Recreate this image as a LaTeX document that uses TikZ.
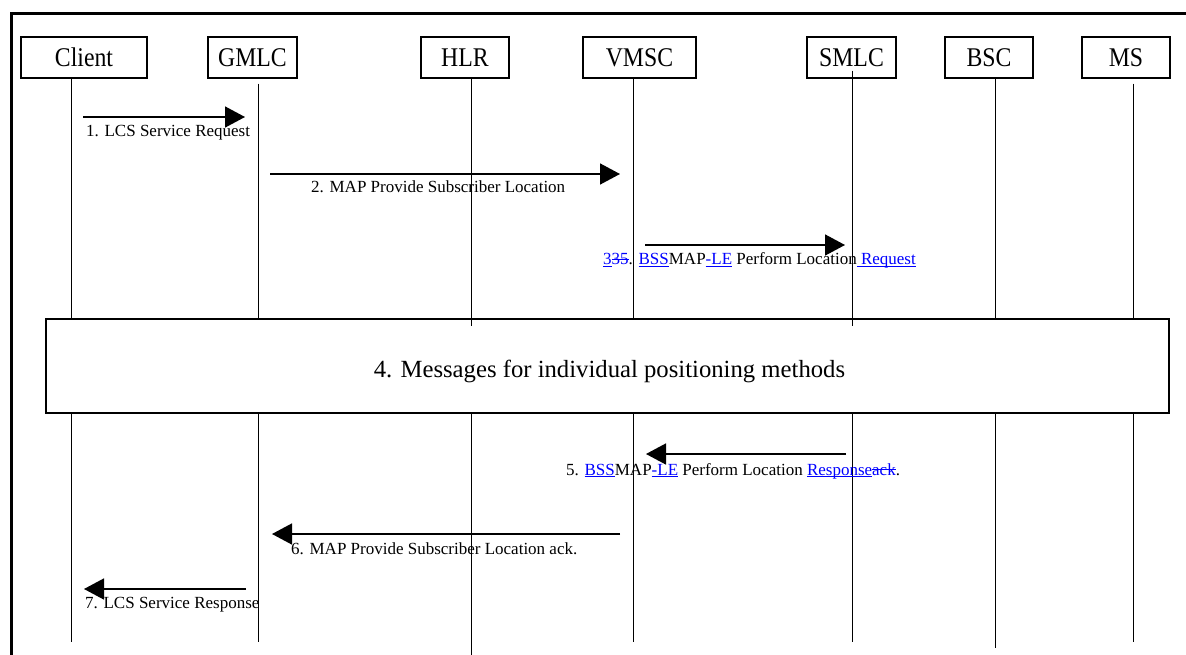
\documentclass[tikz,border=0pt]{standalone}
\usepackage{fontspec}
\setmainfont{Liberation Serif}
\newfontfamily\entfont[FakeStretch=0.88]{Liberation Serif}
\usetikzlibrary{arrows.meta}
\newcommand\insU[1]{\textcolor{blue}{\sbox0{#1}\rlap{\rule[-0.13em]{\wd0}{0.06em}}\usebox0}}
\newcommand\delS[1]{\textcolor{blue}{\sbox0{#1}\rlap{\rule[0.28em]{\wd0}{0.06em}}\usebox0}}
\tikzset{
  ent/.style={draw, line width=1.2pt, minimum height=41pt, inner sep=0pt, font=\entfont\fontsize{27}{30}\selectfont},
  life/.style={line width=1pt},
  msg/.style={line width=1.5pt, -{Triangle[length=20pt,width=21pt]}},
  lbl/.style={anchor=base west, inner sep=0pt, font=\fontsize{17}{20}\selectfont},
  frameline/.style={line width=3pt, line join=miter},
  procbox/.style={draw, fill=white, line width=1.2pt, minimum width=1123pt, minimum height=94pt, inner sep=0pt},
  proctext/.style={anchor=base, inner sep=0pt, font=\fontsize{24.7}{28}\selectfont}
}
\begin{document}
\begin{tikzpicture}[x=1pt,y=-1pt]
\useasboundingbox (0,0) rectangle (1186,655);
\begin{scope}
\clip (0,0) rectangle (1186,655);
\draw[frameline] (11,700) -- (11,14) -- (1250,14);
\end{scope}
% entities
\node[ent, minimum width=126pt] (Client) at (84,57.5) {Client};
\node[ent, minimum width=89pt] (GMLC) at (252.5,57.5) {GMLC};
\node[ent, minimum width=88pt] (HLR) at (465,57.5) {HLR};
\node[ent, minimum width=113pt] (VMSC) at (639.5,57.5) {VMSC};
\node[ent, minimum width=89pt] (SMLC) at (851.5,57.5) {SMLC};
\node[ent, minimum width=88pt] (BSC) at (989,57.5) {BSC};
\node[ent, minimum width=88pt] (MS) at (1126,57.5) {MS};
% procedure box
\node[procbox] (pm) at (607.5,366) {};
\node[proctext] (pmt) at (609.5,377.5) {4. Messages for individual positioning methods};
% lifelines
\foreach \n/\x/\s/\u/\e in {Client/71/0/0/642, GMLC/258/-5/0/642, HLR/471/0/-8/700, VMSC/633/0/0/642, SMLC/852/8/-8/642, BSC/995/0/0/648, MS/1133/-5/0/642}{
  \coordinate (L\n) at (\x,0);
  \coordinate (E\n) at (\x,\e);
  \draw[life] ([yshift=\s pt]\n.south -| L\n) -- ([yshift=\u pt]pm.north -| L\n);
  \draw[life] (pm.south -| L\n) -- (E\n);
}
% messages
\coordinate (m1a) at (83,117);  \coordinate (m1b) at (245,117);
\coordinate (m2a) at (270,174); \coordinate (m2b) at (620,174);
\coordinate (m3a) at (645,245); \coordinate (m3b) at (845,245);
\coordinate (m5a) at (846,454); \coordinate (m5b) at (646,454);
\coordinate (m6a) at (620,534); \coordinate (m6b) at (272,534);
\coordinate (m7a) at (246,589); \coordinate (m7b) at (84,589);
\draw[msg] (m1a) -- (m1b);
\draw[msg] (m2a) -- (m2b);
\draw[msg] (m3a) -- (m3b);
\draw[msg] (m5a) -- (m5b);
\draw[msg] (m6a) -- (m6b);
\draw[msg] (m7a) -- (m7b);
\node[lbl] (t1) at (86,137) {1. LCS Service Request};
\node[lbl] (t2) at (311,193) {2. MAP Provide Subscriber Location};
\node[lbl] (t3) at (603,265) {\insU{3}\delS{35}. \insU{BSS}MAP\insU{-LE} Perform Location\insU{ Request}};
\node[lbl] (t5) at (566,475) {5. \insU{BSS}MAP\insU{-LE} Perform Location \insU{Response}\delS{ack}.};
\node[lbl] (t6) at (291,554) {6. MAP Provide Subscriber Location ack.};
\node[lbl] (t7) at (85,608) {7. LCS Service Response};
\end{tikzpicture}
\end{document}
